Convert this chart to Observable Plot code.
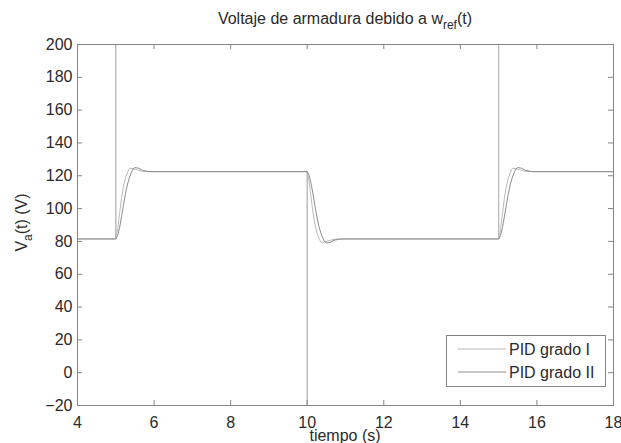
<!DOCTYPE html>
<html><head><meta charset="utf-8">
<script src="https://cdn.jsdelivr.net/npm/d3@7"></script>
<script src="https://cdn.jsdelivr.net/npm/@observablehq/plot@0.6"></script>
<style>
body{margin:0;background:#fff}
svg{font-family:"Liberation Sans",Arial,sans-serif}
</style>
</head><body><div id="chart"></div>
<script>
const xTicks = [4, 6, 8, 10, 12, 14, 16, 18];
const yTicks = [-20, 0, 20, 40, 60, 80, 100, 120, 140, 160, 180, 200];
const seriesNames = ["PID grado I", "PID grado II"];
const seriesColors = ["#b9b9b9", "#8c8c8c"];

const tiempoI = [4, 5, 5, 5, 5.05, 5.1, 5.15, 5.2, 5.25, 5.3, 5.36, 5.45, 5.55, 5.7, 5.9,
  10, 10, 10, 10.05, 10.1, 10.15, 10.2, 10.25, 10.3, 10.36, 10.45, 10.55, 10.7, 10.9,
  15, 15, 15, 15.05, 15.1, 15.15, 15.2, 15.25, 15.3, 15.36, 15.45, 15.55, 15.7, 15.9, 18];
const vaI = [81.5, 81.5, 400, 81.5, 87.7, 97.1, 106.1, 113.5, 118.4, 121.7, 124.6, 124.3, 123.7, 122.7, 122.5,
  122.5, -200, 122.5, 116.3, 106.9, 97.9, 90.5, 85.6, 82.3, 79.4, 79.7, 80.3, 81.3, 81.5,
  81.5, 400, 81.5, 87.7, 97.1, 106.1, 113.5, 118.4, 121.7, 124.6, 124.3, 123.7, 122.7, 122.5, 122.5];

const tiempoII = [4, 5, 5.05, 5.1, 5.15, 5.2, 5.25, 5.3, 5.35, 5.4, 5.45, 5.5, 5.6, 5.7, 5.85, 6,
  10, 10.05, 10.1, 10.15, 10.2, 10.25, 10.3, 10.35, 10.4, 10.45, 10.5, 10.6, 10.7, 10.85, 11,
  15, 15.05, 15.1, 15.15, 15.2, 15.25, 15.3, 15.35, 15.4, 15.45, 15.5, 15.6, 15.7, 15.85, 16, 18];
const vaII = [81.5, 81.5, 83.6, 88.5, 95.0, 102.0, 108.6, 114.3, 118.4, 121.7, 124.1, 125.0, 124.6, 123.3, 122.6, 122.5,
  122.5, 120.4, 115.5, 109.0, 102.0, 95.4, 89.7, 85.6, 82.3, 79.9, 79.0, 79.4, 80.7, 81.4, 81.5,
  81.5, 83.6, 88.5, 95.0, 102.0, 108.6, 114.3, 118.4, 121.7, 124.1, 125.0, 124.6, 123.3, 122.6, 122.5, 122.5];

const W = 621, H = 443, mL = 77, mR = 8, mT = 44, mB = 38;
const plotW = W - mL - mR, plotH = H - mT - mB;
const dataI = tiempoI.map((t, i) => ({t, v: vaI[i]}));
const dataII = tiempoII.map((t, i) => ({t, v: vaII[i]}));
const frameColor = "#858585", textColor = "#2a2a2a";
const FS = 16;

const chart = Plot.plot({
  width: W, height: H,
  marginLeft: mL, marginRight: mR, marginTop: mT, marginBottom: mB,
  style: {fontFamily: "Liberation Sans, Arial, sans-serif", fontSize: FS + "px", color: textColor, background: "#fff", overflow: "visible"},
  x: {domain: [4, 18], label: null},
  y: {domain: [-20, 200], label: null},
  marks: [
    Plot.line(dataI, {x: "t", y: "v", stroke: seriesColors[0], strokeWidth: 1, clip: true}),
    Plot.line(dataII, {x: "t", y: "v", stroke: seriesColors[1], strokeWidth: 1, clip: true}),
    Plot.tickX(xTicks, {x: d => d, stroke: frameColor, insetTop: plotH - 5}),
    Plot.tickX(xTicks, {x: d => d, stroke: frameColor, insetBottom: plotH - 5}),
    Plot.tickY(yTicks, {y: d => d, stroke: frameColor, insetRight: plotW - 5}),
    Plot.tickY(yTicks, {y: d => d, stroke: frameColor, insetLeft: plotW - 5}),
    Plot.frame({stroke: frameColor}),
    Plot.axisX(xTicks, {tickSize: 0, tickPadding: 11, fontSize: FS, fill: textColor, label: null}),
    Plot.axisY(yTicks, {tickSize: 0, tickPadding: 5, fontSize: FS, fill: textColor, label: null})
  ]
});
document.getElementById("chart").appendChild(chart);

const svg = d3.select(chart);
// Title with subscript
const title = svg.append("text")
  .attr("x", mL + plotW / 2).attr("y", 24)
  .attr("text-anchor", "middle").attr("fill", textColor).style("font-size", FS + "px");
title.append("tspan").text("Voltaje de armadura debido a w");
title.append("tspan").attr("dy", 5).style("font-size", "12px").text("ref");
title.append("tspan").attr("dy", -5).text("(t)");

// x label
svg.append("text").attr("x", mL + plotW / 2).attr("y", 441)
  .attr("text-anchor", "middle").attr("fill", textColor).style("font-size", FS + "px")
  .text("tiempo (s)");

// y label with subscript
const yl = svg.append("text")
  .attr("transform", `translate(27, ${mT + plotH / 2 - 2}) rotate(-90)`)
  .attr("text-anchor", "middle").attr("fill", textColor).style("font-size", FS + "px");
yl.append("tspan").text("V");
yl.append("tspan").attr("dy", 5).style("font-size", "12px").text("a");
yl.append("tspan").attr("dy", -5).text("(t) (V)");

// Legend
const lg = svg.append("g");
lg.append("rect").attr("x", 446.5).attr("y", 335.5).attr("width", 159).attr("height", 51)
  .attr("fill", "#fff").attr("stroke", frameColor);
seriesNames.forEach((name, i) => {
  const y = 349 + i * 23;
  lg.append("line").attr("x1", 458).attr("x2", 506).attr("y1", y).attr("y2", y)
    .attr("stroke", seriesColors[i]);
  lg.append("text").attr("x", 509).attr("y", y + 6).attr("fill", textColor)
    .attr("text-anchor", "start")
    .style("font-size", FS + "px").text(name);
});
</script>
</body></html>
